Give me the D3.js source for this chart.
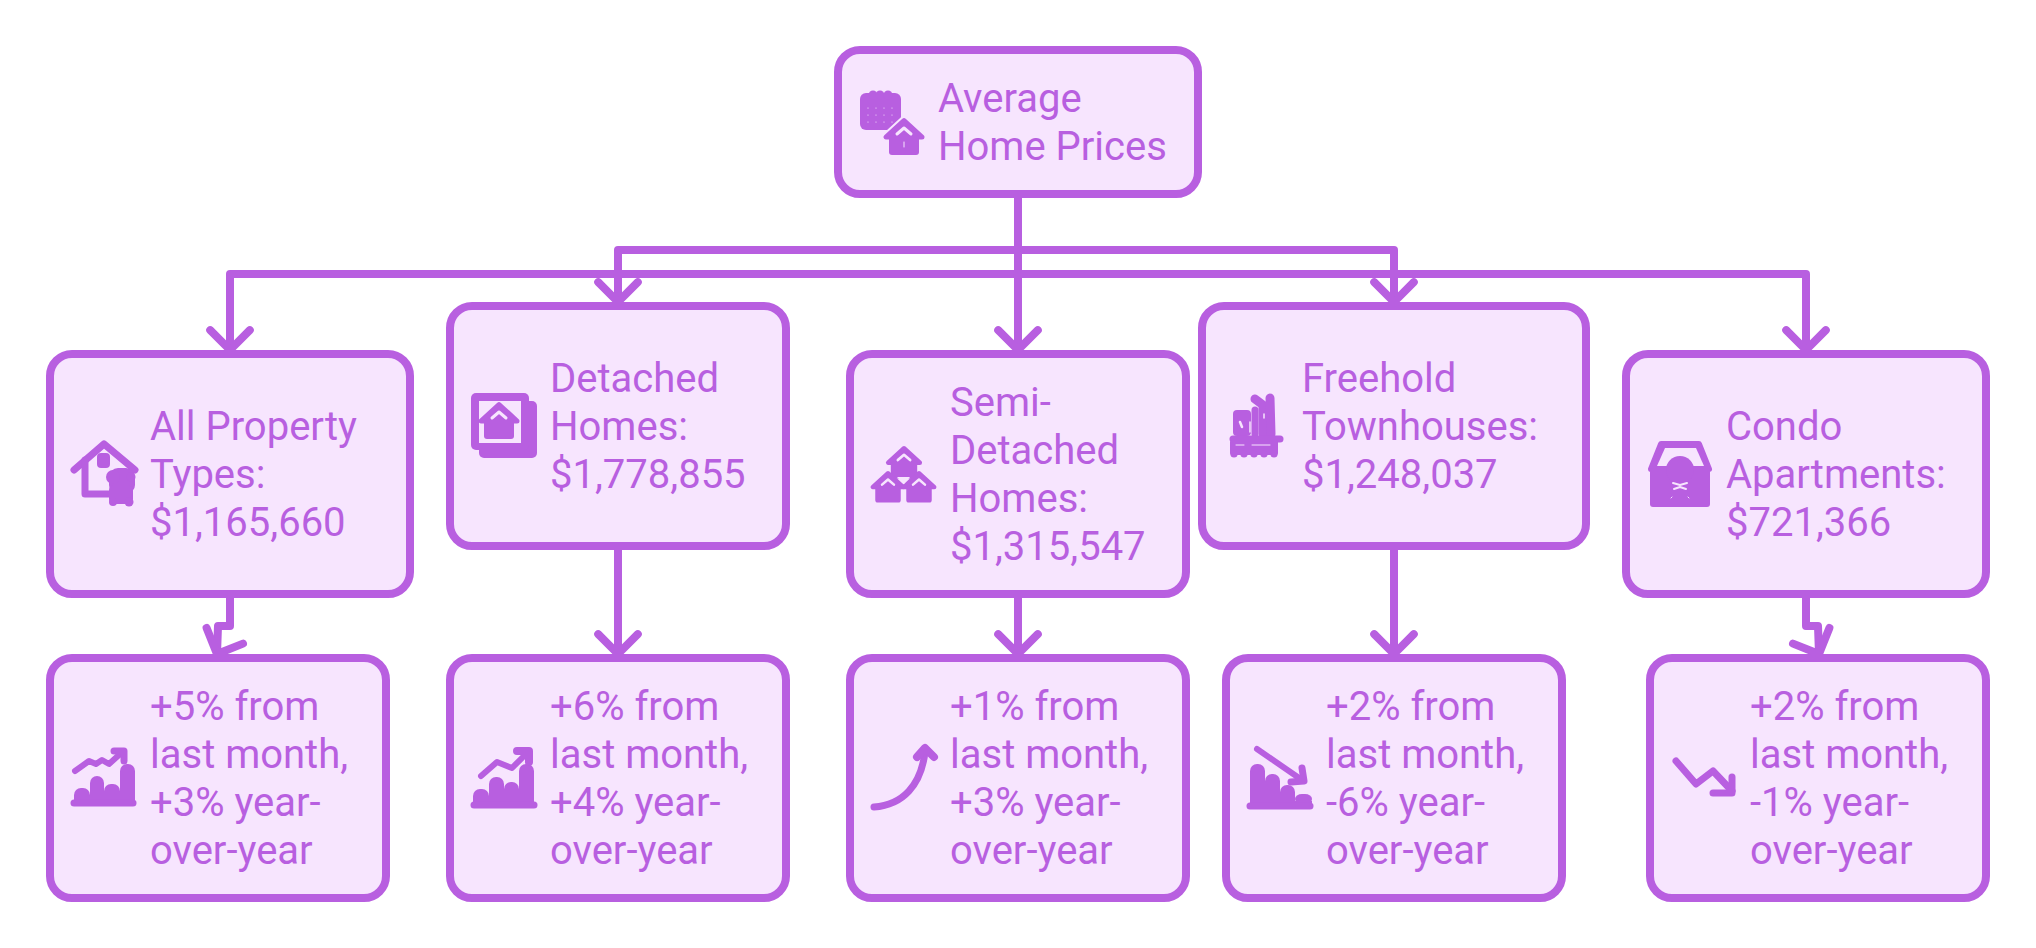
<!DOCTYPE html>
<html>
<head>
<meta charset="utf-8">
<script src="https://cdn.jsdelivr.net/npm/d3@7"></script>
<style>
  html, body { margin: 0; padding: 0; background: #fff; }
  text { font-family: Roboto, sans-serif; font-size: 40px; }
</style>
</head>
<body>
<div id="chart"></div>
<script>
// node text
var rootLines = ["Average", "Home Prices"];
var typeLines = [
  ["All Property", "Types:", "$1,165,660"],
  ["Detached", "Homes:", "$1,778,855"],
  ["Semi-", "Detached", "Homes:", "$1,315,547"],
  ["Freehold", "Townhouses:", "$1,248,037"],
  ["Condo", "Apartments:", "$721,366"]
];
var changeLines = [
  ["+5% from", "last month,", "+3% year-", "over-year"],
  ["+6% from", "last month,", "+4% year-", "over-year"],
  ["+1% from", "last month,", "+3% year-", "over-year"],
  ["+2% from", "last month,", "-6% year-", "over-year"],
  ["+2% from", "last month,", "-1% year-", "over-year"]
];

var svgWidth = 2036;
var svgHeight = 948;
var stroke = "#b85fe0";
var fill = "#f7e5fe";
var lineWidth = 8;
var lineStep = 48;

var svg = d3.select("#chart")
  .append("svg")
  .attr("width", svgWidth)
  .attr("height", svgHeight)
  .style("display", "block");

var line = d3.line();

// layout, one entry per column
var typeX = [50, 450, 850, 1202, 1626];
var typeW = [360, 336, 336, 384, 360];
var typeY = [354, 306, 354, 306, 354];
var changeX = [50, 450, 850, 1226, 1650];
var changeW = 336;
var boxH = 240;
var changeY = 658;
var textOffset = 100;

function outerTop(y) { return y - lineWidth / 2; }

var rootBox = { x: 838, y: 50, w: 360, h: 144 };
var stemX = rootBox.x + rootBox.w / 2;
var busY = [274, 250, 274, 250, 274];

// connectors first, the boxes sit on top of them
var links = svg.append("g")
  .attr("fill", "none")
  .attr("stroke", stroke)
  .attr("stroke-width", lineWidth)
  .attr("stroke-linejoin", "round")
  .attr("stroke-linecap", "round");

function arrowHead(tipX, tipY, angle) {
  var arm = 28;
  var pts = [-135, 0, -45].map(function(a, i) {
    if (i == 1) return [tipX, tipY];
    var r = (a + angle) * Math.PI / 180;
    return [tipX + arm * Math.cos(r), tipY + arm * Math.sin(r)];
  });
  links.append("path").attr("d", line(pts));
}

typeX.forEach(function(x, i) {
  var cx = x + typeW[i] / 2;
  var top = outerTop(typeY[i]);
  links.append("path").attr("d", line([
    [stemX, rootBox.y + rootBox.h], [stemX, busY[i]], [cx, busY[i]], [cx, top]
  ]));
  arrowHead(cx, top, 0);

  var bottom = typeY[i] + boxH;
  var tx = changeX[i] + changeW / 2;
  var tipY = outerTop(changeY);
  if (tx == cx) {
    links.append("path").attr("d", line([[cx, bottom], [cx, tipY]]));
    arrowHead(cx, tipY, 0);
  } else {
    // short dog-leg, the arrow head leans with it
    var bendY = 626;
    links.append("path").attr("d", line([[cx, bottom], [cx, bendY], [tx, bendY], [tx - (cx > tx ? 1 : -1), tipY]]));
    var tilt = Math.atan2(cx - tx, tipY - bendY) * 180 / Math.PI;
    arrowHead(tx - (cx > tx ? 1 : -1), tipY, tilt);
  }
});

function drawBox(x, y, w, h, lines, tx, firstBaseline) {
  var g = svg.append("g");
  g.append("rect")
    .attr("x", x).attr("y", y)
    .attr("width", w).attr("height", h)
    .attr("rx", 22).attr("ry", 22)
    .attr("fill", fill)
    .attr("stroke", stroke)
    .attr("stroke-width", lineWidth);
  g.append("text")
    .attr("fill", stroke)
    .selectAll("tspan")
    .data(lines)
    .enter()
    .append("tspan")
    .attr("x", tx)
    .attr("y", function(d, i) { return firstBaseline + i * lineStep; })
    .text(function(d) { return d; });
  return g;
}

// text block is centred on the box height
function firstBaseline(y, h, n) {
  return y + h / 2 - (n * lineStep) / 2 + 38;
}

drawBox(rootBox.x, rootBox.y, rootBox.w, rootBox.h, rootLines, rootBox.x + textOffset, firstBaseline(rootBox.y, rootBox.h, 2));
typeLines.forEach(function(lines, i) {
  drawBox(typeX[i], typeY[i], typeW[i], boxH, lines, typeX[i] + textOffset, firstBaseline(typeY[i], boxH, lines.length));
});
changeLines.forEach(function(lines, i) {
  drawBox(changeX[i], changeY, changeW, boxH, lines, changeX[i] + textOffset, firstBaseline(changeY, boxH, lines.length));
});

// ---- icons, all hand drawn in local pixels ----
function icon(x, y) {
  return svg.append("g").attr("transform", "translate(" + x + "," + y + ")")
    .attr("fill", stroke)
    .attr("stroke-linecap", "round")
    .attr("stroke-linejoin", "round");
}
function ink(g, pts, w, col) {
  return g.append("path").attr("d", line(pts)).attr("fill", "none")
    .attr("stroke", col || stroke).attr("stroke-width", w);
}
function block(g, x, y, w, h, r, col) {
  return g.append("rect").attr("x", x).attr("y", y).attr("width", w).attr("height", h)
    .attr("rx", r).attr("fill", col || stroke);
}
function dot(g, x, y, r, col) {
  return g.append("circle").attr("cx", x).attr("cy", y).attr("r", r).attr("fill", col || stroke);
}
// little house: width 41, height 37 at s = 1
function house(g, cx, top, s, halo) {
  var h = g.append("g").attr("transform", "translate(" + cx + "," + top + ") scale(" + s + ")");
  if (halo) {
    h.append("path").attr("d", line([[0, 2.5], [-18, 19], [18, 19]]) + "Z")
      .attr("fill", fill).attr("stroke", fill).attr("stroke-width", 9);
  }
  h.append("path").attr("d", line([[0, 2.5], [-18, 19], [18, 19]]) + "Z")
    .attr("fill", stroke).attr("stroke", stroke).attr("stroke-width", 5);
  block(h, -15, 17, 30, 20, 3);
  ink(h, [[-7, 16], [0, 10], [7, 16]], 3, fill);
  return h;
}
// rounded tops, flat bottoms so the columns merge into the base line
function bars(g, tops, edges, base) {
  tops.forEach(function(t, i) {
    var w = edges[i + 1] - edges[i];
    block(g, edges[i], t, w, base - t, 7);
    block(g, edges[i], t + 7, w, base - t - 7, 0);
  });
}

// root: calendar + house
var ic = icon(860, 90);
block(ic, 0, 3, 41, 37, 6);
[13, 20, 28].forEach(function(x) { dot(ic, x, 5, 4.5); });
[18, 25, 32].forEach(function(y) {
  [8, 16, 24, 32].forEach(function(x) { dot(ic, x, y, 0.6, fill); });
});
var h0 = house(ic, 44, 28, 1, true);
ink(h0, [[0, 24], [0, 29]], 1, fill);

// all property: house outline
ic = icon(71, 441);
ink(ic, [[3, 29], [33, 3], [64, 29]], 7);
ink(ic, [[14, 19], [14, 53], [38, 53]], 7);
block(ic, 26, 12, 13, 15, 4);
block(ic, 38, 27, 26, 26, 9);
dot(ic, 42, 36, 7);
dot(ic, 60, 36, 4.5);
block(ic, 38, 44, 24, 19, 5);
dot(ic, 42, 61, 4);
dot(ic, 58, 61, 4.5);

// detached: framed house
ic = icon(471, 393);
block(ic, 8, 8, 58, 57, 5);
block(ic, 0, 0, 58, 57, 5);
block(ic, 8, 8, 42, 42, 0, fill);
house(ic, 28, 9, 1, false);

// semi-detached: three houses
ic = icon(871, 447);
house(ic, 33, -1, 0.88, false);
house(ic, 17, 24, 0.85, false);
house(ic, 48, 24, 0.85, false);
ic.append("path").attr("d", line([[26, 30], [39, 30], [33, 37]]) + "Z").attr("fill", fill);

// freehold: blocky townhouses
ic = icon(1230, 394);
block(ic, 3, 16, 18, 26, 4);
ink(ic, [[25, 5], [33, 11], [33, 40]], 9);
ink(ic, [[40, 4], [41, 40]], 9);
ink(ic, [[25, 16], [25, 40]], 7);
ink(ic, [[10, 28], [12, 33]], 2.5, fill);
ink(ic, [[20, 28], [20, 38]], 1.5, fill);
ink(ic, [[34, 20], [34, 24]], 1.5, fill);
ink(ic, [[3, 45], [50, 45]], 7);
block(ic, 0, 46, 48, 15, 2);
[4, 14, 24, 34, 44].forEach(function(x) { dot(ic, x, 60, 3.6); });
ink(ic, [[6, 51], [14, 51]], 1, fill);
ink(ic, [[22, 51], [40, 51]], 1, fill);

// condo: house with arched window
ic = icon(1648, 441);
ic.append("path").attr("d", line([[3, 28], [13, 3], [51, 3], [61, 28]]) + "Z")
  .attr("fill", stroke).attr("stroke", stroke).attr("stroke-width", 6);
ic.append("path").attr("d", line([[9, 25], [17, 7], [48, 7], [56, 25]]) + "Z").attr("fill", fill);
block(ic, 2, 27, 60, 39, 3);
dot(ic, 32, 29, 14);
ink(ic, [[25, 42], [32, 44], [39, 42]], 2, fill);
ink(ic, [[26, 48], [32, 46], [38, 48]], 2, fill);
ink(ic, [[23, 57], [24, 56]], 1, fill);
ink(ic, [[41, 57], [40, 56]], 1, fill);

// +5% chart
ic = icon(71, 748);
bars(ic, [40, 28, 36, 16], [3, 19, 33, 49, 64], 55);
ink(ic, [[3, 55], [62, 55]], 7);
ink(ic, [[4, 23], [18, 13], [25, 16], [31, 12], [38, 16], [48, 7]], 6);
ink(ic, [[43, 3], [53, 3], [53, 13]], 7);

// +6% chart
ic = icon(471, 746);
bars(ic, [43, 31, 36, 18], [2, 18, 33, 48, 63], 58);
ink(ic, [[3, 59], [63, 59]], 7);
ink(ic, [[10, 30], [26, 16], [41, 22], [57, 6]], 6);
ink(ic, [[46, 5], [58, 5], [58, 16]], 8);

// +1% curved arrow
ic = icon(871, 745);
ic.append("path").attr("d", "M3,62 C32,60 50,40 54,7").attr("fill", "none")
  .attr("stroke", stroke).attr("stroke-width", 7);
ink(ic, [[46, 12], [54, 3], [63, 12]], 8);

// -6% chart
ic = icon(1247, 746);
bars(ic, [18, 28, 39, 48], [3, 18, 33, 48, 65], 58);
ink(ic, [[3, 60], [63, 60]], 7);
ink(ic, [[8, 1], [57, 34]], 11, fill);
ink(ic, [[10, 3], [55, 34]], 6);
ink(ic, [[55, 22], [57, 35], [44, 36]], 7);

// -1% arrow
ic = icon(1673, 758);
ink(ic, [[3, 3], [23, 26], [40, 13], [59, 33]], 7);
ink(ic, [[59, 19], [59, 35], [40, 35]], 7);
</script>
</body>
</html>
